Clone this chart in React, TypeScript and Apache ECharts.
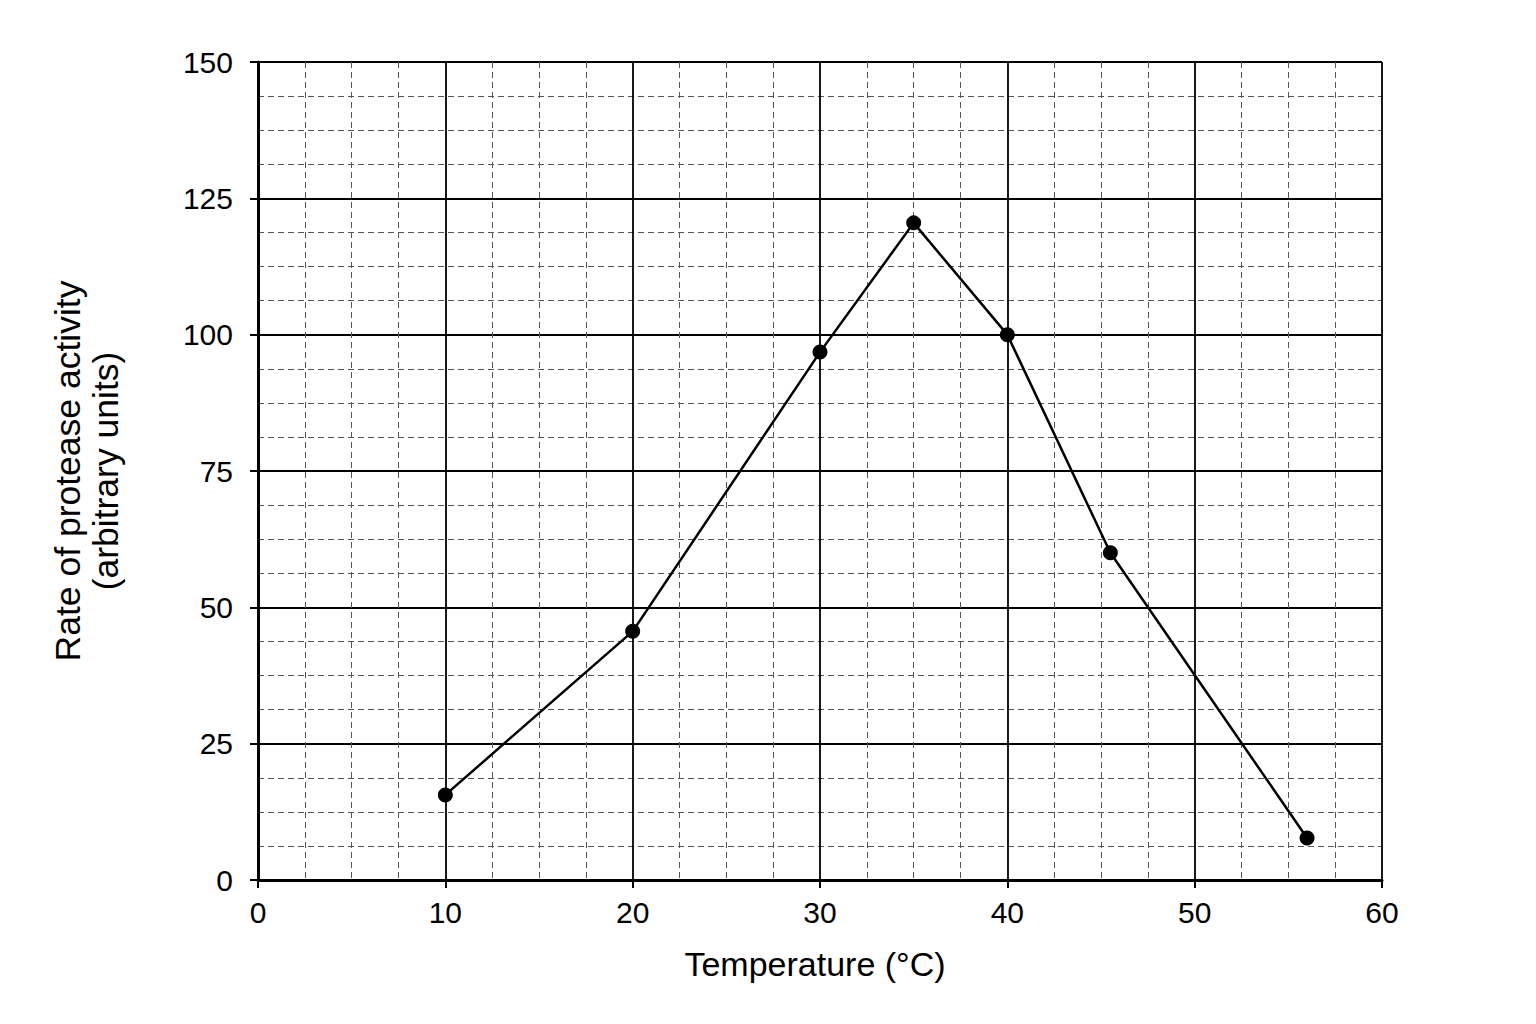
import { useEffect, useRef } from "react";
import * as echarts from "echarts";

// readings
const temperatures = [10, 20, 30, 35, 40, 45.5, 56];
const activity = [15.6, 45.6, 96.8, 120.5, 100, 60, 7.7];

const xTicks = { min: 0, max: 60, interval: 10 };
const yTicks = { min: 0, max: 150, interval: 25 };

const FONT = "'Liberation Sans', Arial, sans-serif";

export default function App() {
  const chartRef = useRef<HTMLDivElement>(null);

  useEffect(() => {
    if (!chartRef.current) return;
    const chart = echarts.init(chartRef.current, undefined, { renderer: "svg" });

    const axisCommon = {
      type: "value" as const,
      axisLine: { onZero: false, lineStyle: { color: "#000", width: 3 } },
      axisTick: { show: true, inside: false, length: 8, lineStyle: { color: "#000", width: 2 } },
      axisLabel: { color: "#000", fontSize: 30, fontFamily: FONT },
      splitLine: { show: true, lineStyle: { color: "#000", width: 1.8 } },
      minorTick: { show: false, splitNumber: 4 },
      minorSplitLine: {
        show: true,
        lineStyle: { color: "#555", width: 1, type: [6, 4] as any },
      },
    };

    chart.setOption({
      animation: false,
      backgroundColor: "#fff",
      grid: { left: 258, right: 154, top: 62, bottom: 144, show: false },
      xAxis: {
        ...axisCommon,
        ...xTicks,
        name: "Temperature (°C)",
        nameLocation: "middle",
        nameGap: 67,
        nameTextStyle: { color: "#000", fontSize: 34, fontFamily: FONT, padding: [0, 10, 0, 0] },
        axisLabel: { ...axisCommon.axisLabel, margin: 17 },
      },
      yAxis: {
        ...axisCommon,
        ...yTicks,
        name: "Rate of protease activity\n(arbitrary units)",
        nameLocation: "middle",
        nameGap: 133,
        nameTextStyle: { color: "#000", fontSize: 35.5, fontFamily: FONT, lineHeight: 38 },
        axisLabel: { ...axisCommon.axisLabel, margin: 25 },
      },
      series: [
        {
          type: "line",
          data: temperatures.map((t, i) => [t, activity[i]]),
          symbol: "circle",
          symbolSize: 15,
          itemStyle: { color: "#000" },
          lineStyle: { color: "#000", width: 2.5 },
          emphasis: { disabled: true },
          z: 5,
        },
      ],
    });

    return () => chart.dispose();
  }, []);

  return (
    <div
      ref={chartRef}
      style={{ position: "absolute", left: 0, top: 0, width: 1536, height: 1024 }}
    />
  );
}
